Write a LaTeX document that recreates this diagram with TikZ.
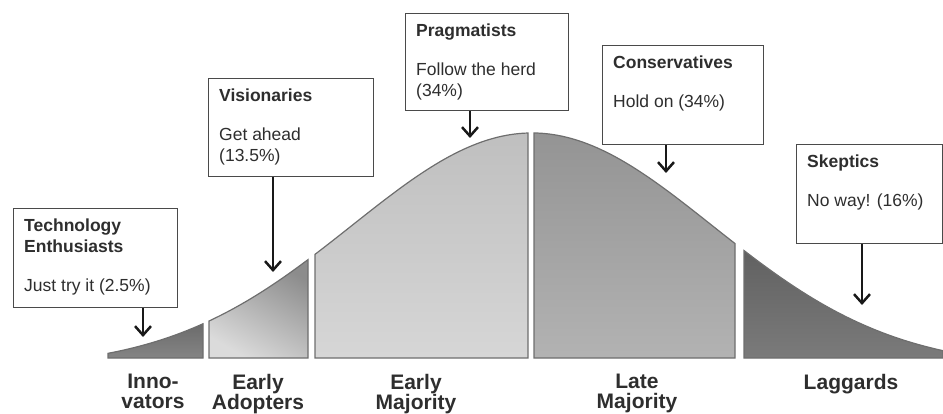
\documentclass[tikz,border=0pt]{standalone}
\usepackage{fontspec}
\setmainfont{Liberation Sans}
\usetikzlibrary{arrows.meta}

\definecolor{boxline}{HTML}{4A4A4A}
\definecolor{segline}{HTML}{6E6E6E}
\definecolor{labelgray}{HTML}{2E2E2E}

\tikzset{
  segment/.style={draw=segline, line width=1.2pt},
  infobox/.style={draw=boxline, line width=1.3pt, fill=white, inner sep=0pt, anchor=north west},
  infotext/.style={anchor=north west, align=left, inner sep=0pt, text=labelgray,
    font=\fontsize{17.5}{21}\selectfont},
  phase/.style={anchor=north, align=center, inner sep=0pt, text=labelgray,
    font=\fontsize{21}{20}\selectfont\bfseries},
  pointer/.style={-{Straight Barb[length=9pt,width=16pt]}, line width=2.5pt, black!90},
}

\begin{document}
\begin{tikzpicture}[x=1pt, y=1pt,
  declare function={bell(\x)=45+235*exp(-0.5*((\x-532)/180)^2);}]

\useasboundingbox (0,0) rectangle (943,413);

%% Glockenkurve %%%%%%%%%%%%%%%%%%%%%%%%%%%%%%%%%%%%%%
\shadedraw[segment, top color=black!58, bottom color=black!48]
  (108,55) -- plot[domain=108:203, samples=30] (\x,{bell(\x)}) -- (203,55) -- cycle;

\shadedraw[segment, top color=black!45, bottom color=black!14, shading angle=-30]
  (209,55) -- plot[domain=209:308, samples=30] (\x,{bell(\x)}) -- (308,55) -- cycle;

\shadedraw[segment, top color=black!25, bottom color=black!16]
  (315,55) -- plot[domain=315:528, samples=50] (\x,{bell(\x)}) -- (528,55) -- cycle;

\shadedraw[segment, top color=black!42, bottom color=black!30]
  (534,55) -- plot[domain=534:735, samples=50] (\x,{bell(\x)}) -- (735,55) -- cycle;

\shadedraw[segment, top color=black!62, bottom color=black!52]
  (744,55) -- plot[domain=744:943, samples=50] (\x,{bell(\x)}) -- (943,55) -- cycle;

%% Phasen
\node[phase] (innov) at (153,39) {Inno-\\vators};
\node[phase] (adopt) at (258,39) {Early\\Adopters};
\node[phase] (earlymaj) at (416,39) {Early\\Majority};
\node[phase] (latemaj) at (637,39) {Late\\Majority};
\node[phase] (lagg) at (851,39) {Laggards};

%% Kaesten %%%%%%%%%%%%%%%%%%%%%%%%%%%%%%%%%%%%%%%%%%
\node[infobox, minimum width=164pt, minimum height=99pt] (tech) at (13,205) {};
\node[infotext] (techtxt) at ([xshift=11pt,yshift=-11pt]tech.north west)
  {\textbf{Technology}\\\textbf{Enthusiasts}\\[18pt]Just try it (2.5\%)};

\node[infobox, minimum width=165pt, minimum height=98pt] (vision) at (208,335) {};
\node[infotext] (visiontxt) at ([xshift=11pt,yshift=-11pt]vision.north west)
  {\textbf{Visionaries}\\[18pt]Get ahead\\(13.5\%)};

\node[infobox, minimum width=163pt, minimum height=97pt] (pragm) at (405,400) {};
\node[infotext] (pragmtxt) at ([xshift=11pt,yshift=-11pt]pragm.north west)
  {\textbf{Pragmatists}\\[18pt]Follow the herd\\(34\%)};

\node[infobox, minimum width=161pt, minimum height=99pt] (conserv) at (602,368) {};
\node[infotext] (conservtxt) at ([xshift=11pt,yshift=-11pt]conserv.north west)
  {\textbf{Conservatives}\\[18pt]Hold on (34\%)};

\node[infobox, minimum width=146pt, minimum height=99pt] (skept) at (796,269) {};
\node[infotext] (skepttxt) at ([xshift=11pt,yshift=-11pt]skept.north west)
  {\textbf{Skeptics}\\[18pt]No way! (16\%)};

%% Pfeile
\coordinate (techtip) at (143,76);
\coordinate (visiontip) at (273,141);
\coordinate (pragmtip) at (470,275);
\coordinate (conservtip) at (666,240);
\coordinate (skepttip) at (862,108);

\draw[pointer] (tech.south -| techtip) -- (techtip);
\draw[pointer] (vision.south -| visiontip) -- (visiontip);
\draw[pointer] (pragm.south -| pragmtip) -- (pragmtip);
\draw[pointer] (conserv.south -| conservtip) -- (conservtip);
\draw[pointer] (skept.south -| skepttip) -- (skepttip);

\end{tikzpicture}
\end{document}
